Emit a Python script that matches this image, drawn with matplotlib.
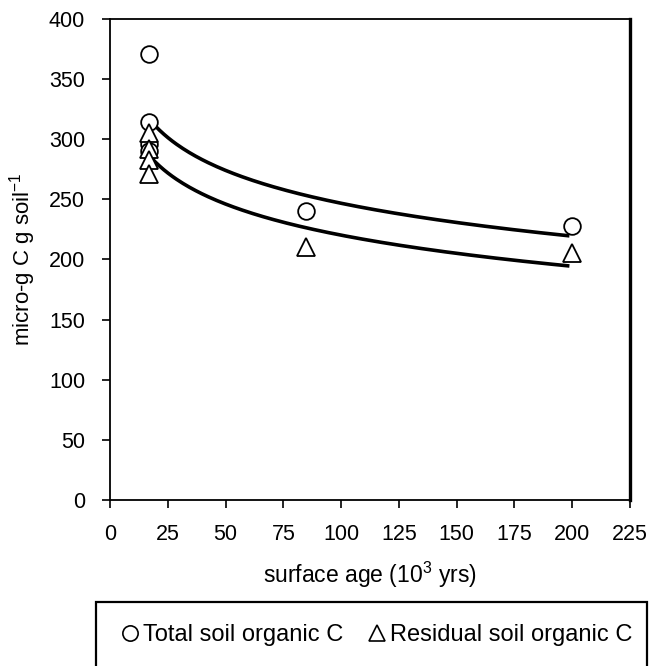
import numpy as np
import matplotlib
matplotlib.use("Agg")
import matplotlib.pyplot as plt
from matplotlib.patches import Rectangle
from matplotlib.lines import Line2D

plt.rcParams['font.family'] = ['Liberation Sans', 'DejaVu Sans']
plt.rcParams['mathtext.fontset'] = 'custom'
plt.rcParams['mathtext.rm'] = 'Liberation Sans'
plt.rcParams['mathtext.it'] = 'Liberation Sans'

# surface age (10^3 yrs) and soil C (micro-g C g soil-1)
total_age = [17, 17, 17, 17, 85, 200]
total_c = [371, 314, 296, 290, 240, 228]
resid_age = [17, 17, 17, 17, 85, 200]
resid_c = [305, 292, 283, 271, 210, 205]
trend_start = 16
trend_end = 198

x_ticks = [0, 25, 50, 75, 100, 125, 150, 175, 200, 225]
y_ticks = [0, 50, 100, 150, 200, 250, 300, 350, 400]


def log_trend(x, y):
    # excel style logarithmic trendline
    b, a = np.polyfit(np.log(x), y, 1)
    xs = np.linspace(trend_start, trend_end, 200)
    return xs, a + b * np.log(xs)


fig = plt.figure(figsize=(6.53, 6.66), dpi=100)
ax = fig.add_axes([0.1685, 0.2493, 0.7963, 0.7222])

xs, ys = log_trend(total_age, total_c)
ax.plot(xs, ys, color='black', lw=2.6, zorder=2)
xs, ys = log_trend(resid_age, resid_c)
ax.plot(xs, ys, color='black', lw=2.6, zorder=2)

ax.plot(total_age, total_c, linestyle='', marker='o', ms=12, mfc='white',
        mec='black', mew=1.3, zorder=3)
ax.plot(resid_age, resid_c, linestyle='', marker='^', ms=12.5, mfc='white',
        mec='black', mew=1.3, zorder=4)

ax.set_xlim(0, 225)
ax.set_ylim(0, 400)
ax.set_xticks(x_ticks)
ax.set_yticks(y_ticks)
ax.tick_params(direction='out', length=6, width=1.2, labelsize=15.5)
ax.tick_params(axis='y', pad=12)
ax.tick_params(axis='x', pad=11)
for s in ax.spines.values():
    s.set_linewidth(1.3)
ax.spines['right'].set_linewidth(2.4)

ax.set_xlabel('surface age (10$^3$ yrs)', fontsize=16.5, labelpad=11)
ax.set_ylabel('micro-g C g soil$^{-1}$', fontsize=16, labelpad=8)

# legend box at the bottom (cut by the figure edge)
fig.patches.append(Rectangle((96 / 653, -0.1), 551 / 653, 0.1 + 64 / 666,
                             transform=fig.transFigure, fill=False,
                             edgecolor='black', lw=1.6))
handles = [Line2D([], [], linestyle='', marker='o', ms=11, mfc='white', mec='black', mew=1.2),
           Line2D([], [], linestyle='', marker='^', ms=11, mfc='white', mec='black', mew=1.2)]
fig.legend(handles, ['Total soil organic C', 'Residual soil organic C'],
           loc='center', bbox_to_anchor=(0.576, 1 - 635 / 666), ncol=2,
           frameon=False, fontsize=17, handletextpad=0.1, columnspacing=1.0,
           handlelength=0.9)

fig.savefig('out.png', dpi=100)
